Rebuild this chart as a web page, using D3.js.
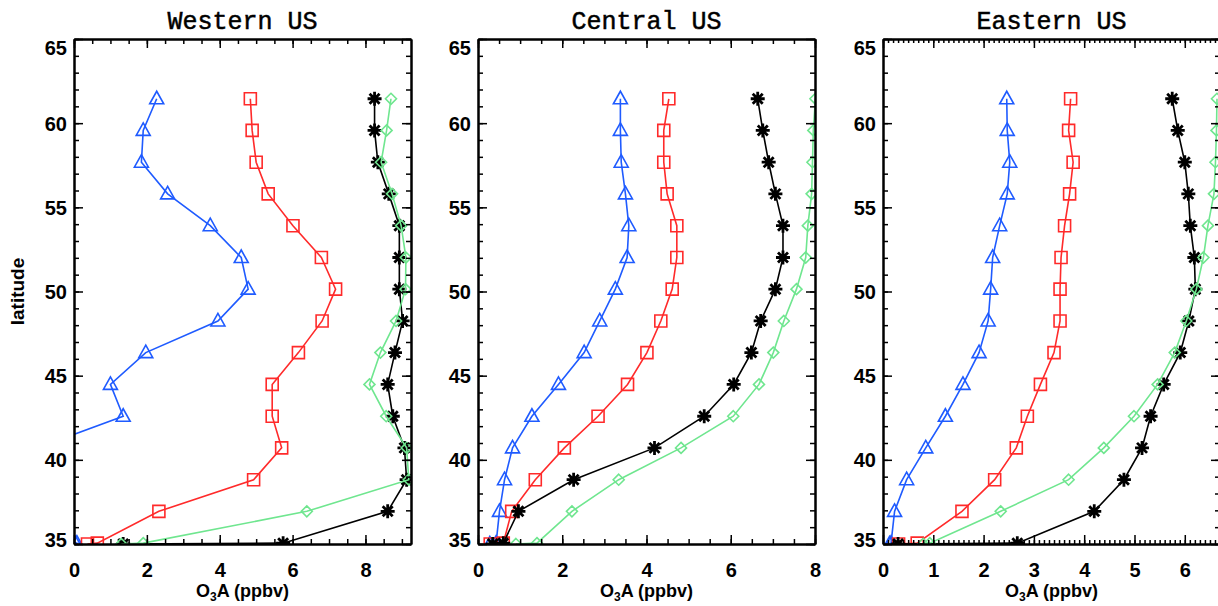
<!DOCTYPE html>
<html>
<head>
<meta charset="utf-8">
<script src="https://cdn.jsdelivr.net/npm/d3@7"></script>
<style>
  body { margin: 0; background: #fff; }
  .tick text { font-family: "Liberation Sans", Arial, sans-serif; font-weight: bold; font-size: 20px; fill: #000; }
</style>
</head>
<body>
<div id="chart"></div>
<script>
//// DATA ////

// latitude of each row (the last two rows both sit on the 35 line)
var latitudes = [61.45, 59.57, 57.68, 55.80, 53.91, 52.02, 50.14, 48.25, 46.37, 44.48, 42.59, 40.71, 38.82, 36.94, 35.05, 35.0];

var regionNames = ["Western US", "Central US", "Eastern US"];
var xMaxValues = [9.25, 8, 6.7];
var xMajorTicks = [[0, 2, 4, 6, 8], [0, 2, 4, 6, 8], [0, 1, 2, 3, 4, 5, 6]];
var xMinorSteps = [0.5, 0.5, 0.1];
var yMajorTicks = [35, 40, 45, 50, 55, 60, 65];

// Western US
var westBlue  = [2.27, 1.90, 1.85, 2.57, 3.74, 4.59, 4.78, 3.95, 1.97, 1.00, 1.35, -1.0, -3.0, -2.5, 0.08, 0.05];
var westRed   = [4.84, 4.89, 5.00, 5.33, 6.01, 6.79, 7.18, 6.81, 6.16, 5.44, 5.44, 5.70, 4.93, 2.33, 0.64, 0.37];
var westBlack = [8.25, 8.25, 8.34, 8.64, 8.93, 8.93, 8.93, 9.02, 8.81, 8.61, 8.75, 9.07, 9.13, 8.61, 5.74, 1.35];
var westGreen = [8.70, 8.58, 8.43, 8.73, 8.98, 9.11, 9.10, 8.84, 8.41, 8.11, 8.57, 9.13, 9.19, 6.39, 1.90, 1.30];

// Central US
var centBlue  = [3.38, 3.38, 3.40, 3.50, 3.58, 3.54, 3.26, 2.89, 2.52, 1.91, 1.28, 0.82, 0.63, 0.51, 0.43, 0.28];
var centRed   = [4.53, 4.41, 4.41, 4.49, 4.72, 4.72, 4.61, 4.34, 4.01, 3.55, 2.85, 2.05, 1.36, 0.80, 0.60, 0.29];
var centBlack = [6.64, 6.76, 6.90, 7.06, 7.24, 7.24, 7.06, 6.71, 6.49, 6.07, 5.37, 4.19, 2.27, 0.96, 0.60, 0.35];
var centGreen = [8.01, 7.96, 7.94, 7.92, 7.83, 7.78, 7.56, 7.26, 7.01, 6.67, 6.06, 4.82, 3.34, 2.23, 1.40, 0.90];

// Eastern US
var eastBlue  = [2.46, 2.47, 2.52, 2.47, 2.32, 2.18, 2.14, 2.09, 1.91, 1.59, 1.24, 0.85, 0.47, 0.23, 0.16, 0.13];
var eastRed   = [3.73, 3.69, 3.78, 3.71, 3.61, 3.54, 3.52, 3.52, 3.40, 3.13, 2.87, 2.65, 2.22, 1.57, 0.68, 0.31];
var eastBlack = [5.75, 5.86, 6.00, 6.07, 6.11, 6.19, 6.21, 6.08, 5.91, 5.58, 5.32, 5.15, 4.79, 4.20, 2.67, 0.30];
var eastGreen = [6.64, 6.63, 6.61, 6.58, 6.46, 6.37, 6.23, 6.03, 5.80, 5.46, 4.99, 4.39, 3.69, 2.34, 0.93, 0.80];

var panelSeries = [
  [westBlue, westRed, westBlack, westGreen],
  [centBlue, centRed, centBlack, centGreen],
  [eastBlue, eastRed, eastBlack, eastGreen]
];

//// SET UP ////

var svgWidth = 1218;
var svgHeight = 606;

var panelLeft = [74, 478, 883];
var panelTop = 39;
var width = 337;
var height = 505;

var seriesColors = ["#1f5bff", "#ff2a2a", "#000000", "#6fe68f"];
var seriesShapes = ["triangle", "square", "star", "diamond"];

var svg = d3.select("#chart")
  .append("svg")
  .attr("width", svgWidth)
  .attr("height", svgHeight);

var y = d3.scaleLinear().domain([35, 65]).range([height, 0]);
var yMinor = d3.range(35, 66, 1);

// marker path centred on 0,0
function markerPath(shape) {
  if (shape === "triangle") return "M0,-7.5L7,5L-7,5Z";
  if (shape === "square") return "M-6,-6H6V6H-6Z";
  if (shape === "diamond") return "M0,-5.5L5.5,0L0,5.5L-5.5,0Z";
  return "M-7,0H7M0,-7V7M-5,-5L5,5M-5,5L5,-5";
}

function styleAxis(g) {
  g.select(".domain").attr("stroke", "#000").attr("stroke-width", 2);
  g.selectAll(".tick line").attr("stroke", "#000").attr("stroke-width", 1.5);
}

regionNames.forEach(function(name, p) {
  var x = d3.scaleLinear().domain([0, xMaxValues[p]]).range([0, width]);
  var xMinor = d3.range(0, xMaxValues[p] + 1e-9, xMinorSteps[p]);
  var minorLen = p === 2 ? 4 : 5;

  var chartGroup = svg.append("g")
    .attr("transform", `translate(${panelLeft[p]}, ${panelTop})`);

  chartGroup.append("clipPath")
    .attr("id", "clip" + p)
    .append("rect")
    .attr("width", width)
    .attr("height", height);

  // data lines and markers
  var plotArea = chartGroup.append("g").attr("clip-path", `url(#clip${p})`);

  panelSeries[p].forEach(function(values, s) {
    var points = values.map(function(v, i) { return [v, latitudes[i]]; });

    var line = d3.line()
      .x(d => x(d[0]))
      .y(d => y(d[1]));

    plotArea.append("path")
      .datum(points)
      .attr("d", line)
      .attr("fill", "none")
      .attr("stroke", seriesColors[s])
      .attr("stroke-width", 1.6);

    plotArea.selectAll(null)
      .data(points)
      .enter()
      .append("path")
      .attr("transform", d => `translate(${x(d[0])}, ${y(d[1])})`)
      .attr("d", markerPath(seriesShapes[s]))
      .attr("fill", "none")
      .attr("stroke", seriesColors[s])
      .attr("stroke-width", seriesShapes[s] === "star" ? 2.8 : 1.6);
  });

  // minor ticks on all four sides
  chartGroup.append("g")
    .attr("transform", `translate(0, ${height})`)
    .call(d3.axisBottom(x).tickValues(xMinor).tickSize(-minorLen).tickSizeOuter(0).tickFormat(""))
    .call(styleAxis);
  chartGroup.append("g")
    .call(d3.axisTop(x).tickValues(xMinor).tickSize(-minorLen).tickSizeOuter(0).tickFormat(""))
    .call(styleAxis);
  chartGroup.append("g")
    .call(d3.axisLeft(y).tickValues(yMinor).tickSize(-5).tickSizeOuter(0).tickFormat(""))
    .call(styleAxis);
  chartGroup.append("g")
    .attr("transform", `translate(${width}, 0)`)
    .call(d3.axisRight(y).tickValues(yMinor).tickSize(-5).tickSizeOuter(0).tickFormat(""))
    .call(styleAxis);

  // major ticks with labels
  var bottomAxis = chartGroup.append("g")
    .attr("transform", `translate(0, ${height})`)
    .call(d3.axisBottom(x).tickValues(xMajorTicks[p]).tickSize(-9).tickSizeOuter(0).tickPadding(19).tickFormat(d3.format("d")))
    .call(styleAxis);
  bottomAxis.selectAll(".tick text").attr("dy", "0.71em");

  chartGroup.append("g")
    .call(d3.axisTop(x).tickValues(xMajorTicks[p]).tickSize(-9).tickSizeOuter(0).tickFormat(""))
    .call(styleAxis);

  var leftAxis = chartGroup.append("g")
    .call(d3.axisLeft(y).tickValues(yMajorTicks).tickSize(-9).tickSizeOuter(0).tickPadding(7).tickFormat(d3.format("d")))
    .call(styleAxis);
  // keep the end labels inside the frame height, as the original does
  leftAxis.selectAll(".tick text")
    .attr("dy", d => d === 65 ? "0.75em" : d === 35 ? "0.1em" : "0.35em");

  chartGroup.append("g")
    .attr("transform", `translate(${width}, 0)`)
    .call(d3.axisRight(y).tickValues(yMajorTicks).tickSize(-9).tickSizeOuter(0).tickFormat(""))
    .call(styleAxis);

  // title
  chartGroup.append("text")
    .attr("x", width / 2)
    .attr("y", 29 - panelTop)
    .attr("text-anchor", "middle")
    .style("font-family", "'Liberation Mono', 'DejaVu Sans Mono', monospace")
    .style("font-size", "25px")
    .style("stroke", "#000")
    .style("stroke-width", 0.5)
    .text(name);

  // x axis label
  var xLabel = chartGroup.append("text")
    .attr("x", width / 2)
    .attr("y", 597 - panelTop)
    .attr("text-anchor", "middle")
    .style("font-family", "'Liberation Sans', Arial, sans-serif")
    .style("font-weight", "bold")
    .style("font-size", "18px");
  xLabel.append("tspan").text("O");
  xLabel.append("tspan").attr("dy", 4).style("font-size", "12px").text("3");
  xLabel.append("tspan").attr("dy", -4).text("A (ppbv)");

  // y axis label on first panel only
  if (p === 0) {
    chartGroup.append("text")
      .attr("transform", "rotate(-90)")
      .attr("x", -height / 2)
      .attr("y", 24 - panelLeft[p])
      .attr("text-anchor", "middle")
      .style("font-family", "'Liberation Sans', Arial, sans-serif")
      .style("font-weight", "bold")
      .style("font-size", "19px")
      .text("latitude");
  }
});
</script>
</body>
</html>
